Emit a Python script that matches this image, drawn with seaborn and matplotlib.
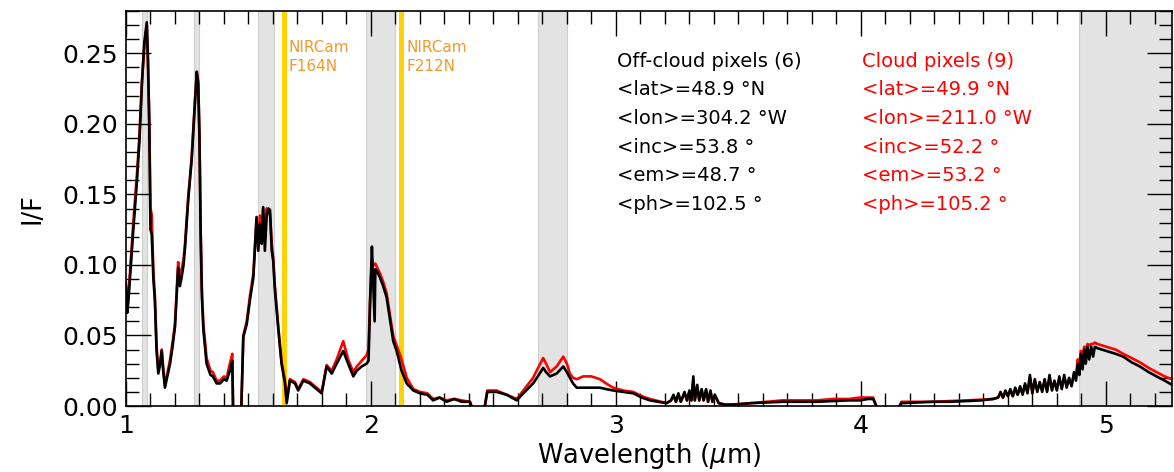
import numpy as np
import pandas as pd
import matplotlib
matplotlib.use("Agg")
import matplotlib.pyplot as plt
import seaborn as sns
from matplotlib.ticker import MultipleLocator

# ---------------- data ----------------
# Segment A: 1.00 - 1.44 um
wl_a = [1.000, 1.005, 1.010, 1.020, 1.030, 1.045, 1.055, 1.065, 1.075, 1.085,
        1.090, 1.095, 1.100, 1.105, 1.112, 1.118, 1.125, 1.132, 1.140, 1.146,
        1.152, 1.159, 1.170, 1.180, 1.190, 1.200, 1.213, 1.220, 1.227, 1.235,
        1.241, 1.254, 1.268, 1.282, 1.289, 1.295, 1.300, 1.305, 1.310, 1.316,
        1.329, 1.345, 1.355, 1.370, 1.384, 1.400, 1.411, 1.424, 1.434, 1.437]
off_a = [0.085, 0.066, 0.075, 0.100, 0.125, 0.160, 0.188, 0.228, 0.258, 0.272,
         0.245, 0.200, 0.125, 0.122, 0.090, 0.075, 0.039, 0.023, 0.030, 0.039,
         0.025, 0.013, 0.022, 0.030, 0.042, 0.056, 0.098, 0.085, 0.091, 0.100,
         0.112, 0.146, 0.174, 0.216, 0.237, 0.228, 0.190, 0.120, 0.077, 0.054,
         0.030, 0.022, 0.021, 0.016, 0.016, 0.019, 0.018, 0.025, 0.032, 0.000]
cloud_a = [0.088, 0.068, 0.078, 0.104, 0.130, 0.165, 0.192, 0.230, 0.255, 0.270,
           0.240, 0.205, 0.140, 0.136, 0.095, 0.078, 0.042, 0.026, 0.032, 0.040,
           0.027, 0.015, 0.024, 0.033, 0.045, 0.058, 0.102, 0.092, 0.096, 0.104,
           0.115, 0.148, 0.176, 0.218, 0.236, 0.230, 0.192, 0.125, 0.082, 0.058,
           0.034, 0.025, 0.024, 0.018, 0.018, 0.021, 0.020, 0.030, 0.037, 0.000]

# Segment B: 1.47 - 2.41 um
wl_b = [1.471, 1.479, 1.493, 1.506, 1.520, 1.533, 1.540, 1.547, 1.554, 1.560,
        1.567, 1.574, 1.581, 1.588, 1.595, 1.601, 1.608, 1.622, 1.635, 1.649,
        1.656, 1.669, 1.690, 1.703, 1.724, 1.751, 1.778, 1.799, 1.819, 1.840,
        1.860, 1.887, 1.907, 1.928, 1.942, 1.962, 1.982, 1.990, 1.996, 2.004,
        2.007, 2.015, 2.018, 2.023, 2.037, 2.050, 2.064, 2.078, 2.091, 2.105,
        2.115, 2.125, 2.146, 2.173, 2.200, 2.230, 2.254, 2.280, 2.309, 2.340,
        2.370, 2.404, 2.410]
off_b = [0.000, 0.049, 0.058, 0.075, 0.091, 0.134, 0.110, 0.129, 0.115, 0.141,
         0.110, 0.134, 0.140, 0.139, 0.110, 0.103, 0.082, 0.054, 0.030, 0.016,
         0.002, 0.018, 0.016, 0.011, 0.018, 0.016, 0.012, 0.009, 0.028, 0.023,
         0.030, 0.039, 0.030, 0.021, 0.025, 0.028, 0.030, 0.032, 0.070, 0.113,
         0.098, 0.060, 0.097, 0.096, 0.091, 0.085, 0.077, 0.061, 0.046, 0.039,
         0.032, 0.025, 0.016, 0.011, 0.009, 0.008, 0.004, 0.006, 0.003, 0.005,
         0.003, 0.003, 0.000]
cloud_b = [0.000, 0.050, 0.060, 0.078, 0.094, 0.132, 0.118, 0.135, 0.122, 0.140,
           0.118, 0.140, 0.138, 0.136, 0.115, 0.105, 0.085, 0.056, 0.032, 0.018,
           0.004, 0.019, 0.017, 0.012, 0.019, 0.017, 0.013, 0.010, 0.029, 0.025,
           0.033, 0.046, 0.033, 0.024, 0.028, 0.032, 0.036, 0.040, 0.075, 0.104,
           0.101, 0.100, 0.101, 0.099, 0.094, 0.088, 0.080, 0.064, 0.050, 0.043,
           0.038, 0.033, 0.020, 0.012, 0.010, 0.009, 0.005, 0.006, 0.004, 0.005,
           0.004, 0.003, 0.000]

# Segment C: 2.46 - 4.06 um
wl_c = [2.465, 2.475, 2.513, 2.554, 2.595, 2.622, 2.662, 2.685, 2.703, 2.715,
        2.731, 2.758, 2.785, 2.800, 2.812, 2.825, 2.840, 2.866, 2.900, 2.935,
        2.960, 2.989, 3.030, 3.071, 3.105, 3.139, 3.207, 3.225, 3.235, 3.245,
        3.255, 3.265, 3.280, 3.290, 3.300, 3.308, 3.316, 3.322, 3.332, 3.340,
        3.350, 3.358, 3.368, 3.376, 3.386, 3.394, 3.404, 3.420, 3.445, 3.475,
        3.550, 3.615, 3.680, 3.751, 3.820, 3.887, 3.950, 3.996, 4.030, 4.050,
        4.063]
off_c = [0.000, 0.010, 0.010, 0.008, 0.004, 0.009, 0.016, 0.022, 0.027, 0.024,
         0.021, 0.023, 0.028, 0.024, 0.020, 0.016, 0.013, 0.013, 0.013, 0.013,
         0.012, 0.011, 0.010, 0.009, 0.006, 0.004, 0.002, 0.004, 0.008, 0.003,
         0.009, 0.003, 0.010, 0.004, 0.011, 0.004, 0.021, 0.004, 0.015, 0.004,
         0.012, 0.004, 0.012, 0.003, 0.011, 0.003, 0.008, 0.002, 0.001, 0.001,
         0.002, 0.0025, 0.003, 0.003, 0.003, 0.0035, 0.004, 0.004, 0.005, 0.005,
         0.000]
cloud_c = [0.000, 0.011, 0.011, 0.008, 0.005, 0.011, 0.020, 0.028, 0.034, 0.030,
           0.024, 0.028, 0.035, 0.030, 0.023, 0.020, 0.019, 0.021, 0.021, 0.019,
           0.016, 0.013, 0.011, 0.010, 0.007, 0.005, 0.002, 0.004, 0.007, 0.003,
           0.008, 0.003, 0.009, 0.004, 0.010, 0.004, 0.018, 0.004, 0.013, 0.004,
           0.011, 0.004, 0.011, 0.003, 0.010, 0.003, 0.007, 0.002, 0.001, 0.001,
           0.002, 0.003, 0.004, 0.004, 0.004, 0.005, 0.005, 0.006, 0.006, 0.006,
           0.000]

# Segment D: 4.16 - 5.27 um
wl_d = [4.158, 4.165, 4.230, 4.294, 4.360, 4.431, 4.490, 4.540, 4.560, 4.570,
        4.580, 4.590, 4.600, 4.610, 4.620, 4.630, 4.640, 4.650, 4.660, 4.670,
        4.680, 4.690, 4.700, 4.710, 4.720, 4.730, 4.740, 4.750, 4.760, 4.770,
        4.780, 4.790, 4.800, 4.810, 4.820, 4.830, 4.840, 4.850, 4.860, 4.870,
        4.878, 4.885, 4.892, 4.898, 4.905, 4.912, 4.918, 4.925, 4.932, 4.940,
        4.948, 4.955, 4.965, 5.002, 5.040, 5.071, 5.105, 5.139, 5.175, 5.207,
        5.240, 5.270]
off_d = [0.000, 0.002, 0.0025, 0.003, 0.003, 0.0035, 0.004, 0.005, 0.006, 0.010,
         0.006, 0.011, 0.007, 0.012, 0.007, 0.013, 0.008, 0.014, 0.008, 0.016,
         0.009, 0.022, 0.009, 0.019, 0.010, 0.017, 0.010, 0.019, 0.010, 0.022,
         0.011, 0.018, 0.011, 0.021, 0.012, 0.022, 0.013, 0.020, 0.014, 0.024,
         0.018, 0.030, 0.022, 0.037, 0.026, 0.040, 0.030, 0.042, 0.033, 0.042,
         0.035, 0.042, 0.041, 0.039, 0.037, 0.035, 0.031, 0.028, 0.024, 0.021,
         0.018, 0.015]
cloud_d = [0.000, 0.003, 0.003, 0.003, 0.0035, 0.004, 0.0045, 0.005, 0.006, 0.009,
           0.006, 0.010, 0.007, 0.011, 0.007, 0.012, 0.008, 0.013, 0.009, 0.015,
           0.010, 0.020, 0.010, 0.018, 0.011, 0.016, 0.011, 0.018, 0.011, 0.020,
           0.012, 0.017, 0.012, 0.019, 0.013, 0.020, 0.014, 0.019, 0.015, 0.022,
           0.020, 0.033, 0.030, 0.039, 0.036, 0.042, 0.040, 0.044, 0.043, 0.044,
           0.044, 0.045, 0.044, 0.042, 0.040, 0.037, 0.034, 0.031, 0.027, 0.024,
           0.021, 0.019]

# Shaded wavelength windows and NIRCam narrow-band filters
band_starts = [1.065, 1.278, 1.540, 1.980, 2.680, 4.890]
band_ends = [1.085, 1.298, 1.605, 2.100, 2.800, 5.300]
filter_centers = [1.644, 2.121]
filter_labels = ["NIRCam\nF164N", "NIRCam\nF212N"]

off_header = "Off-cloud pixels (6)"
off_lines = ["<lat>=48.9 °N", "<lon>=304.2 °W", "<inc>=53.8 °", "<em>=48.7 °", "<ph>=102.5 °"]
cloud_header = "Cloud pixels (9)"
cloud_lines = ["<lat>=49.9 °N", "<lon>=211.0 °W", "<inc>=52.2 °", "<em>=53.2 °", "<ph>=105.2 °"]

# ---------------- table ----------------
segments = [(wl_a, off_a, cloud_a), (wl_b, off_b, cloud_b),
            (wl_c, off_c, cloud_c), (wl_d, off_d, cloud_d)]
frames = []
for i, (w, o, c) in enumerate(segments):
    frames.append(pd.DataFrame({"wavelength": w, "off": o, "cloud": c, "seg": i}))
df = pd.concat(frames, ignore_index=True)

# ---------------- plot ----------------
sns.set_theme(style="ticks")
plt.rcParams["font.family"] = ["DejaVu Sans"]
plt.rcParams["mathtext.fontset"] = "dejavusans"
for key in ["text.color", "axes.labelcolor", "xtick.color", "ytick.color",
            "xtick.labelcolor", "ytick.labelcolor", "axes.edgecolor"]:
    plt.rcParams[key] = "black"

fig = plt.figure(figsize=(11.74, 4.72), dpi=100)
ax = fig.add_axes([0.1073, 0.1398, 0.8910, 0.8369])

for s, e in zip(band_starts, band_ends):
    ax.axvspan(s, e, facecolor="#e3e3e3", edgecolor="#cfcfcf", linewidth=0.8, zorder=0)
for fc in filter_centers:
    ax.axvline(fc, color="#FFD200", linewidth=3.6, zorder=1)

sns.lineplot(data=df, x="wavelength", y="cloud", units="seg", estimator=None,
             color="#FF0000", linewidth=1.9, ax=ax, zorder=2)
sns.lineplot(data=df, x="wavelength", y="off", units="seg", estimator=None,
             color="black", linewidth=1.9, ax=ax, zorder=3)

ax.set_xlim(1.0, 5.27)
ax.set_ylim(0.0, 0.28)
ax.xaxis.set_major_locator(MultipleLocator(1))
ax.xaxis.set_minor_locator(MultipleLocator(0.1))
ax.yaxis.set_major_locator(MultipleLocator(0.05))
ax.yaxis.set_minor_locator(MultipleLocator(0.01))
ax.tick_params(which="both", direction="in", top=True, right=True, width=1.0,
               color="black", labelcolor="black", labelsize=18)
ax.tick_params(which="major", length=18, pad=6)
ax.tick_params(which="minor", length=9.5)
for sp in ax.spines.values():
    sp.set_linewidth(1.2)
    sp.set_color("black")

ax.set_xlabel(r"Wavelength ($\mu$m)", fontsize=18.5, labelpad=2, color="black")
ax.set_ylabel("I/F", fontsize=18.5, labelpad=12, color="black")

orange = "#F29A2E"
label_x = [1.665, 2.146]
for x, t in zip(label_x, filter_labels):
    ax.text(x, 0.2595, t, color=orange, fontsize=11, va="top", ha="left",
            linespacing=1.35, zorder=4)

base = [0.2406, 0.2203, 0.1999, 0.1796, 0.1593, 0.1390]
for y, t in zip(base, [off_header] + off_lines):
    ax.text(3.004, y, t, color="black", fontsize=14, va="baseline", ha="left", zorder=4)
for y, t in zip(base, [cloud_header] + cloud_lines):
    ax.text(4.005, y, t, color="#FF0000", fontsize=14, va="baseline", ha="left", zorder=4)

fig.savefig("out.png", dpi=100)
